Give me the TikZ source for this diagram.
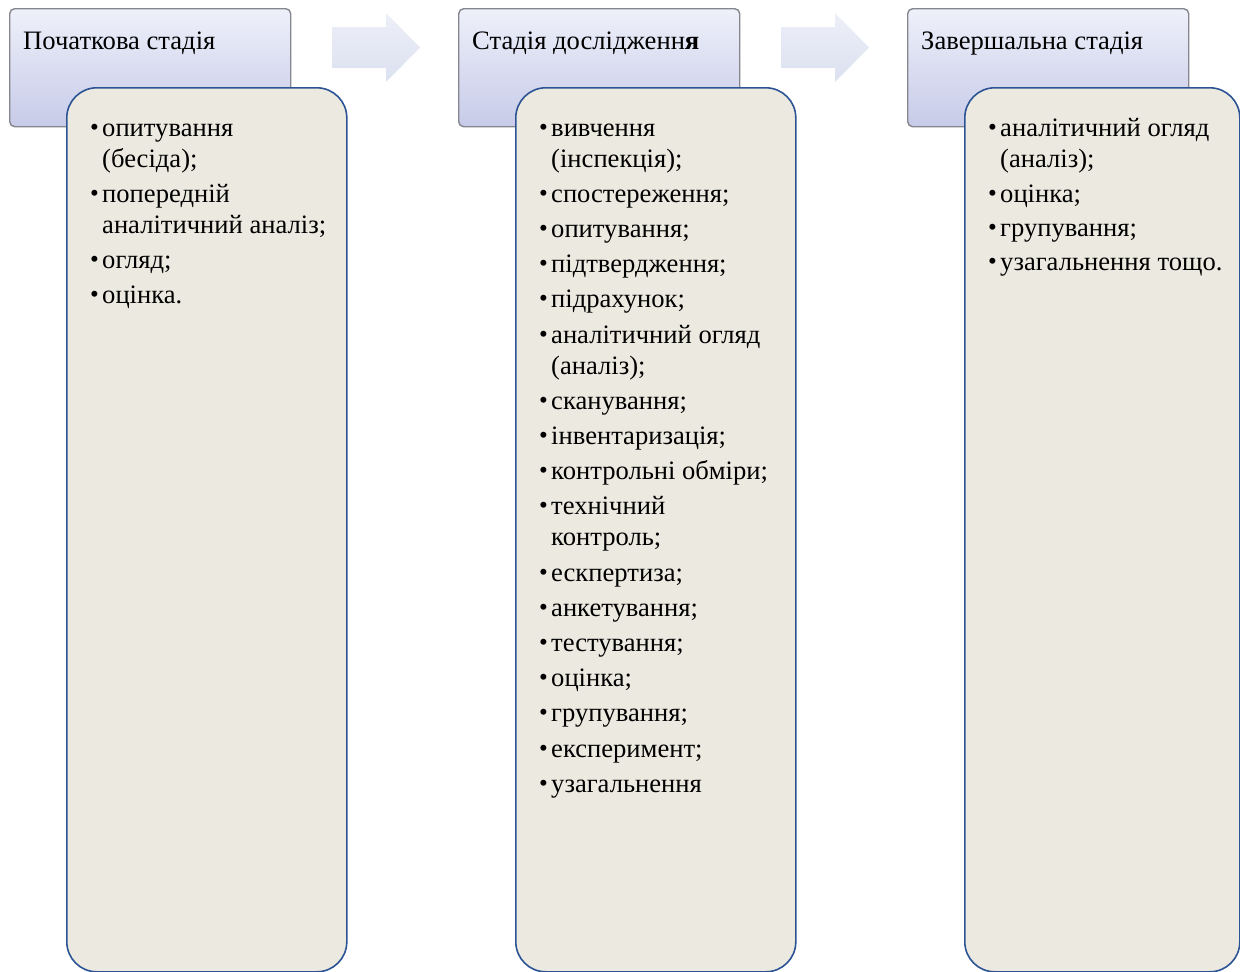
\documentclass[tikz,border=0pt]{standalone}
\usepackage{fontspec}
\setmainfont{Liberation Serif}

\definecolor{bodyfill}{HTML}{ECEAE0}
\definecolor{bodyline}{HTML}{2C5494}
\definecolor{headtop}{HTML}{EEF0FA}
\definecolor{headbot}{HTML}{C7CBE8}
\definecolor{headline}{HTML}{85868E}
\definecolor{arrowtop}{HTML}{EDEFF8}
\definecolor{arrowbot}{HTML}{DCE1F0}

\tikzset{
  stagehead/.style={draw=headline, line width=1.4pt, rounded corners=5pt,
    top color=headtop, bottom color=headbot, minimum width=281pt,
    minimum height=118pt, inner sep=0pt, anchor=north west},
  stagebody/.style={draw=bodyline, line width=1.6pt, rounded corners=30pt,
    fill=bodyfill, minimum height=884pt, inner sep=0pt, anchor=north west},
  stagetitle/.style={anchor=base west, inner sep=0pt,
    font=\fontsize{26.6}{31}\selectfont},
  itemtext/.style={anchor=base west, inner sep=0pt,
    font=\fontsize{26.6}{31}\selectfont},
  itemdot/.style={anchor=base west, inner sep=0pt,
    font=\fontsize{25}{28}\selectfont},
  flowarrow/.style={top color=arrowtop, bottom color=arrowbot, draw=none}
}

\begin{document}
\begin{tikzpicture}[x=1pt, y=-1pt]
\useasboundingbox (0,0) rectangle (1240,972);

% stage headers
\node[stagehead] (h1) at (9,8) {};
\node[stagehead] (h2) at (458,8) {};
\node[stagehead] (h3) at (907,8) {};
\node[stagetitle] (t1) at (23,49) {Початкова стадія};
\node[stagetitle] (t2) at (472,49) {Стадія дослідженн\textbf{я}};
\node[stagetitle] (t3) at (921,49) {Завершальна стадія};

% block arrows between the headers
\foreach \dx/\n in {0/a1, 449/a2} {
  \path[flowarrow] (332+\dx,27) -- (386+\dx,27) -- (386+\dx,13)
    -- (420+\dx,47.5) -- (386+\dx,82) -- (386+\dx,68) -- (332+\dx,68) -- cycle;
  \coordinate (\n) at (420+\dx,47.5);
}

% content panels
\node[stagebody, minimum width=280pt] (b1) at (66,87) {};
\node[stagebody, minimum width=280pt] (b2) at (515,87) {};
\node[stagebody, minimum width=275pt] (b3) at (964,87) {};

% first stage items
\foreach \y/\b/\t [count=\i] in {
  136/1/опитування,
  167/0/(бесіда);,
  202/1/попередній,
  233/0/аналітичний аналіз;,
  268/1/огляд;,
  303/1/оцінка.} {
  \ifnum\b=1 \node[itemdot] (p\i) at (90,\y-1) {•}; \fi
  \node[itemtext] (l\i) at (102,\y) {\t};
}

% second stage items
\foreach \y/\b/\t [count=\i] in {
  136/1/вивчення,
  167/0/(інспекція);,
  202.2/1/спостереження;,
  237.4/1/опитування;,
  272.6/1/підтвердження;,
  307.8/1/підрахунок;,
  343/1/аналітичний огляд,
  374/0/(аналіз);,
  409.2/1/сканування;,
  444.4/1/інвентаризація;,
  479.6/1/контрольні обміри;,
  514.8/1/технічний,
  545.8/0/контроль;,
  581/1/ескпертиза;,
  616.2/1/анкетування;,
  651.4/1/тестування;,
  686.6/1/оцінка;,
  721.8/1/групування;,
  757/1/експеримент;,
  792.2/1/узагальнення} {
  \ifnum\b=1 \node[itemdot] (q\i) at (539,\y-1) {•}; \fi
  \node[itemtext] (m\i) at (551,\y) {\t};
}

% final stage items
\foreach \y/\b/\t [count=\i] in {
  136/1/аналітичний огляд,
  167/0/(аналіз);,
  202/1/оцінка;,
  236/1/групування;,
  270/1/узагальнення тощо.} {
  \ifnum\b=1 \node[itemdot] (s\i) at (988,\y-1) {•}; \fi
  \node[itemtext] (r\i) at (1000,\y) {\t};
}
\end{tikzpicture}
\end{document}
